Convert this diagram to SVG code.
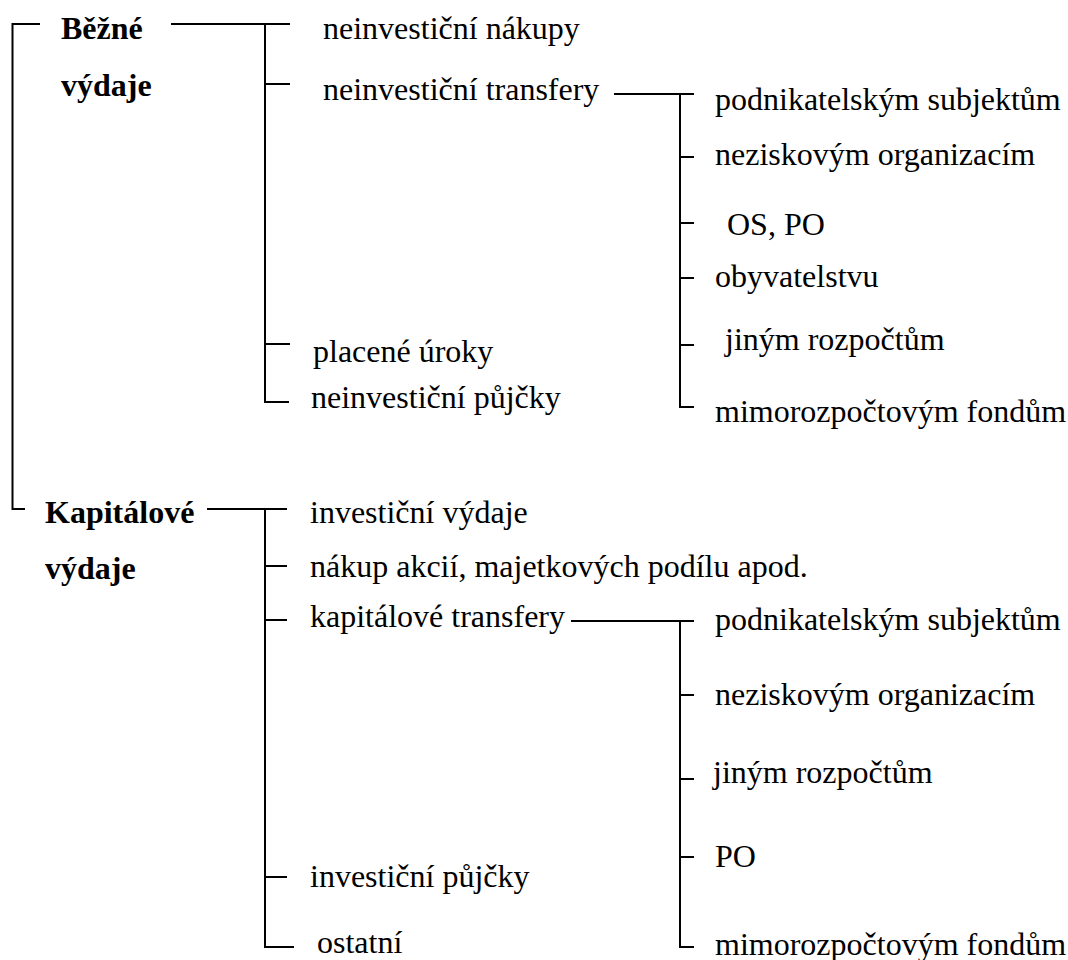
<svg xmlns="http://www.w3.org/2000/svg" width="1068" height="960" viewBox="0 0 1068 960">
<style>
text{font-family:'Times New Roman','Liberation Serif',Tinos,serif;font-size:32px;fill:#000}
.b{font-weight:bold}
.c line,.c polyline{stroke:#000;stroke-width:2;fill:none}
</style>
<rect width="1068" height="960" fill="#fff"/>
<g class="c" id="connectors">
<polyline points="40,24 12.5,24 12.5,509 25,509"/>
<line x1="171" y1="24" x2="290" y2="24"/>
<polyline points="265,24 265,402 289,402"/>
<line x1="265" y1="84" x2="290" y2="84"/>
<line x1="265" y1="344" x2="290" y2="344"/>
<line x1="614" y1="94" x2="694" y2="94"/>
<polyline points="680,94 680,407 694,407"/>
<line x1="680" y1="157" x2="694" y2="157"/>
<line x1="680" y1="223" x2="694" y2="223"/>
<line x1="680" y1="278" x2="694" y2="278"/>
<line x1="680" y1="345" x2="694" y2="345"/>
<line x1="207" y1="509" x2="287" y2="509"/>
<polyline points="265,509 265,947 294,947"/>
<line x1="265" y1="566" x2="287" y2="566"/>
<line x1="265" y1="620" x2="287" y2="620"/>
<line x1="265" y1="877" x2="287" y2="877"/>
<line x1="571" y1="621" x2="694" y2="621"/>
<polyline points="680,621 680,947 694,947"/>
<line x1="680" y1="695" x2="694" y2="695"/>
<line x1="680" y1="779" x2="694" y2="779"/>
<line x1="680" y1="857" x2="694" y2="857"/>
</g>
<g id="bezne"><text class="b" x="61" y="39">Běžné</text><text class="b" x="61" y="96">výdaje</text></g>
<g id="kapitalove"><text class="b" x="45" y="523">Kapitálové</text><text class="b" x="45" y="579">výdaje</text></g>
<g id="n1"><text x="323" y="39">neinvestiční nákupy</text></g>
<g id="n2"><text x="323" y="100">neinvestiční transfery</text></g>
<g id="n3"><text x="313" y="362">placené úroky</text></g>
<g id="n4"><text x="311" y="408">neinvestiční půjčky</text></g>
<g id="t1"><text x="715" y="110">podnikatelským subjektům</text></g>
<g id="t2"><text x="715" y="165">neziskovým organizacím</text></g>
<g id="t3"><text x="727" y="235">OS, PO</text></g>
<g id="t4"><text x="715" y="287">obyvatelstvu</text></g>
<g id="t5"><text x="725" y="350">jiným rozpočtům</text></g>
<g id="t6"><text x="715" y="422">mimorozpočtovým fondům</text></g>
<g id="k1"><text x="310" y="523">investiční výdaje</text></g>
<g id="k2"><text x="310" y="577">nákup akcií, majetkových podílu apod.</text></g>
<g id="k3"><text x="310" y="627">kapitálové transfery</text></g>
<g id="k4"><text x="310" y="887">investiční půjčky</text></g>
<g id="k5"><text x="317" y="953">ostatní</text></g>
<g id="u1"><text x="715" y="630">podnikatelským subjektům</text></g>
<g id="u2"><text x="715" y="705">neziskovým organizacím</text></g>
<g id="u3"><text x="713" y="783">jiným rozpočtům</text></g>
<g id="u4"><text x="715" y="867">PO</text></g>
<g id="u5"><text x="715" y="955">mimorozpočtovým fondům</text></g>
</svg>
